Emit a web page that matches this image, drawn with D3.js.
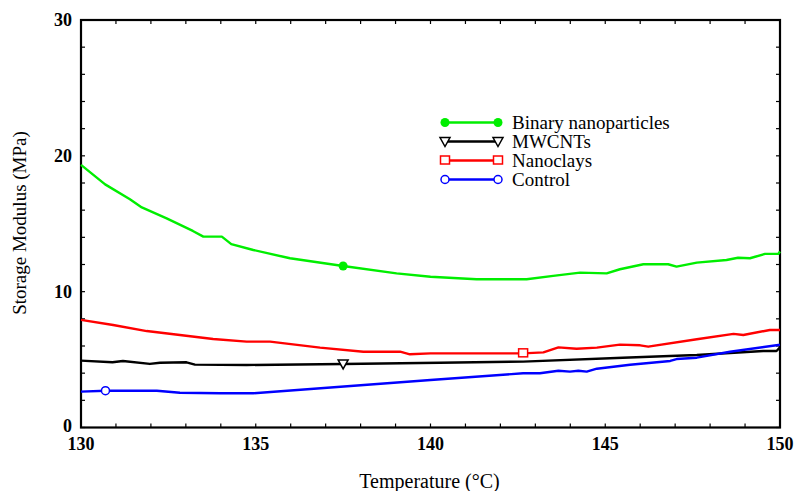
<!DOCTYPE html>
<html>
<head>
<meta charset="utf-8">
<script src="https://cdn.jsdelivr.net/npm/d3@7"></script>
<style>
  body { margin: 0; background: #fff; }
  text { font-family: "Liberation Serif", "Times New Roman", serif; }
</style>
</head>
<body>
<script>
// data
var binaryT = [130, 130.69, 131.4, 131.74, 132.45, 133.2, 133.5, 134.03, 134.3, 134.93, 135.98, 137.5, 139.03, 140.0, 141.32, 142.75, 143.51, 144.28, 145.04, 145.42, 146.09, 146.8, 147.04, 147.62, 148.47, 148.8, 149.14, 149.57, 149.95, 150];
var binaryV = [19.33, 17.9, 16.8, 16.2, 15.4, 14.47, 14.05, 14.05, 13.5, 13.07, 12.46, 11.89, 11.35, 11.1, 10.91, 10.91, 11.16, 11.4, 11.35, 11.65, 12.02, 12.02, 11.84, 12.14, 12.33, 12.5, 12.46, 12.78, 12.78, 12.95];

var mwcntT = [130, 130.9, 131.2, 131.97, 132.26, 133.02, 133.26, 134.74, 137.5, 140.27, 142.65, 145.5, 147.62, 149.52, 149.9, 150];
var mwcntV = [4.92, 4.8, 4.9, 4.68, 4.77, 4.8, 4.63, 4.6, 4.68, 4.77, 4.85, 5.14, 5.34, 5.63, 5.63, 5.9];

var clayT = [130, 130.92, 131.88, 132.83, 133.78, 134.74, 135.41, 136.84, 138.08, 139.13, 139.41, 140.0, 140.46, 142.65, 143.23, 143.66, 144.18, 144.76, 145.42, 146.0, 146.23, 147.62, 148.67, 148.95, 149.71, 150];
var clayV = [7.92, 7.55, 7.1, 6.81, 6.52, 6.32, 6.32, 5.88, 5.58, 5.58, 5.39, 5.46, 5.46, 5.46, 5.53, 5.9, 5.8, 5.88, 6.1, 6.05, 5.95, 6.5, 6.89, 6.81, 7.18, 7.18];

var controlT = [130, 130.7, 132.17, 132.83, 133.98, 134.93, 140.0, 142.65, 143.13, 143.66, 143.99, 144.23, 144.47, 144.76, 145.71, 146.86, 147.04, 147.62, 148.57, 149.95, 150];
var controlV = [2.64, 2.71, 2.71, 2.56, 2.52, 2.52, 3.5, 3.99, 3.99, 4.18, 4.11, 4.18, 4.11, 4.33, 4.62, 4.9, 5.04, 5.14, 5.58, 6.07, 6.08];

var seriesNames = ["Binary nanoparticles", "MWCNTs", "Nanoclays", "Control"];
var seriesColors = ["#00ee00", "#000000", "#ff0000", "#0000ff"];
var markerTypes = ["dot", "triangle", "square", "circle"];
// where each series carries its one marker on the plot
var markerAt = [[137.5, 11.89], [137.5, 4.68], [142.65, 5.46], [130.7, 2.71]];

var xMajor = [130, 135, 140, 145, 150];
var yMajor = [0, 10, 20, 30];

var series = [
  {T: binaryT, V: binaryV},
  {T: mwcntT, V: mwcntV},
  {T: clayT, V: clayV},
  {T: controlT, V: controlV}
];

var W = 796, H = 491;
var margin = {top: 20, right: 16, bottom: 63.5, left: 81};
var width = W - margin.left - margin.right,
    height = H - margin.top - margin.bottom;

var svg = d3.select("body").append("svg")
    .attr("width", W)
    .attr("height", H)
  .append("g")
    .attr("transform", "translate(" + margin.left + "," + margin.top + ")");

var x = d3.scaleLinear().domain([130, 150]).range([0, width]);
var y = d3.scaleLinear().domain([0, 30]).range([height, 0]);

// ticks, all pointing inward
var xt = d3.range(130, 151, 1), yt = d3.range(0, 31, 2);
var tickG = svg.append("g").attr("stroke", "#000").attr("stroke-width", 1.2);
xt.forEach(function(t) {
  tickG.append("line").attr("x1", x(t)).attr("x2", x(t)).attr("y1", height).attr("y2", height - 4);
  tickG.append("line").attr("x1", x(t)).attr("x2", x(t)).attr("y1", 0).attr("y2", 4);
});
yt.forEach(function(t) {
  tickG.append("line").attr("x1", 0).attr("x2", 4).attr("y1", y(t)).attr("y2", y(t));
  tickG.append("line").attr("x1", width).attr("x2", width - 4).attr("y1", y(t)).attr("y2", y(t));
});

// frame
svg.append("rect")
    .attr("width", width).attr("height", height)
    .attr("fill", "none").attr("stroke", "#000").attr("stroke-width", 2.2);

// tick labels
svg.append("g").selectAll("text").data(xMajor).enter().append("text")
    .attr("x", function(d) { return x(d); })
    .attr("y", height + 22)
    .attr("text-anchor", "middle")
    .style("font-size", "18px").style("font-weight", "bold")
    .text(function(d) { return d; });
svg.append("g").selectAll("text").data(yMajor).enter().append("text")
    .attr("x", -9)
    .attr("y", function(d) { return y(d) + (d === 0 ? 4 : 6); })
    .attr("text-anchor", "end")
    .style("font-size", "18px").style("font-weight", "bold")
    .text(function(d) { return d; });

// axis titles
svg.append("text")
    .attr("x", x(140) - 1)
    .attr("y", height + 60)
    .attr("text-anchor", "middle")
    .style("font-size", "20px")
    .text("Temperature (\u00B0C)");
svg.append("text")
    .attr("transform", "translate(" + (-55) + "," + (223 - margin.top) + ") rotate(-90)")
    .attr("text-anchor", "middle")
    .style("font-size", "19px")
    .text("Storage Modulus (MPa)");

var line = d3.line().x(function(d) { return x(d[0]); }).y(function(d) { return y(d[1]); });

function drawMarker(g, type, cx, cy, color) {
  if (type === "dot") {
    g.append("circle").attr("cx", cx).attr("cy", cy).attr("r", 4.5).attr("fill", color);
  } else if (type === "circle") {
    g.append("circle").attr("cx", cx).attr("cy", cy).attr("r", 4).attr("fill", "#fff")
      .attr("stroke", color).attr("stroke-width", 1.5);
  } else if (type === "square") {
    g.append("rect").attr("x", cx - 4.5).attr("y", cy - 4.5).attr("width", 9).attr("height", 8)
      .attr("fill", "#fff").attr("stroke", color).attr("stroke-width", 1.5);
  } else if (type === "triangle") {
    g.append("path").attr("d", "M" + (cx - 5) + "," + (cy - 4) + "L" + (cx + 5) + "," + (cy - 4) + "L" + cx + "," + (cy + 5) + "Z")
      .attr("fill", "#fff").attr("stroke", color).attr("stroke-width", 1.5);
  }
}

var plot = svg.append("g");
series.forEach(function(s, i) {
  var pts = s.T.map(function(t, j) { return [t, s.V[j]]; });
  plot.append("path")
      .datum(pts)
      .attr("fill", "none")
      .attr("stroke", seriesColors[i])
      .attr("stroke-width", 2.4)
      .attr("stroke-linejoin", "round")
      .attr("d", line);
});
series.forEach(function(s, i) {
  drawMarker(plot, markerTypes[i], x(markerAt[i][0]), y(markerAt[i][1]), seriesColors[i]);
});

// legend
var legend = svg.append("g").attr("transform", "translate(" + (445 - margin.left) + "," + (122.5 - margin.top) + ")");
seriesNames.forEach(function(name, i) {
  var ly = i * 19;
  legend.append("line").attr("x1", 0).attr("x2", 53).attr("y1", ly).attr("y2", ly)
      .attr("stroke", seriesColors[i]).attr("stroke-width", 2.4);
  drawMarker(legend, markerTypes[i], 0, ly, seriesColors[i]);
  drawMarker(legend, markerTypes[i], 53, ly, seriesColors[i]);
  legend.append("text").attr("x", 67).attr("y", ly + 6)
      .style("font-size", "19px")
      .text(name);
});
</script>
</body>
</html>
